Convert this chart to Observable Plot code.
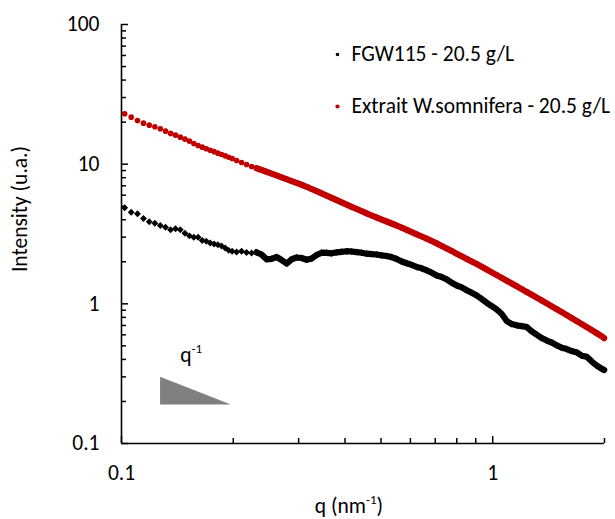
<!DOCTYPE html>
<html><head><meta charset="utf-8">
<script src="https://cdn.jsdelivr.net/npm/d3@7"></script>
<script src="https://cdn.jsdelivr.net/npm/@observablehq/plot@0.6"></script>
<style>
html,body{margin:0;padding:0;background:#fff;}
#chart{position:relative;width:615px;height:519px;overflow:hidden;}
</style></head><body><div id="chart"></div>
<script>
// scattering vector q (nm^-1)
const q = [0.1020,0.1062,0.1104,0.1146,0.1188,0.1230,0.1272,0.1314,0.1356,0.1398,0.1440,0.1482,0.1524,0.1566,0.1608,0.1650,0.1692,0.1734,0.1776,0.1818,0.1860,0.1902,0.1944,0.1986,
0.2042,0.2106,0.2172,0.2241,0.2311,0.2384,0.2459,0.2537,0.2617,0.2699,0.2784,0.2872,0.2963,0.3056,0.3153,0.3252,0.3354,0.3460,0.3569,0.3682,0.3798,0.3917,0.4041,0.4168,0.4300,0.4435,0.4575,0.4719,0.4868,0.5021,0.5180,0.5343,0.5511,0.5685,0.5864,0.6049,0.6240,0.6437,0.6639,0.6849,0.7065,0.7287,0.7517,0.7754,0.7998,0.8250,0.8511,0.8779,0.9056,0.9341,0.9635,0.9938,1.0251,1.0574,1.0907,1.1251,1.1606,1.1971,1.2349,1.2738,1.3140,1.3554,1.3981,1.4422,1.4876,1.5345,1.5829,1.6328,1.6842,1.7373,1.7921,1.8486,1.9068,1.9669,1.995];
// FGW115 - 20.5 g/L
const fgw115 = [4.872,4.530,4.412,4.083,3.867,3.779,3.638,3.537,3.389,3.445,3.389,3.204,3.069,3.000,3.000,2.841,2.808,2.726,2.682,2.647,2.594,2.510,2.416,2.377,
2.350,2.377,2.331,2.312,2.339,2.255,2.084,2.101,2.164,2.060,
1.944,2.084,2.146,2.129,2.067,2.111,2.236,2.323,2.319,2.300,
2.335,2.358,2.381,2.369,2.346,2.323,2.285,2.270,2.255,2.225,
2.199,2.160,2.094,2.009,1.951,1.900,1.835,1.796,1.738,1.671,
1.595,1.556,1.498,1.416,1.352,1.313,1.251,1.199,1.147,1.082,
1.017,0.9644,0.9103,0.8450,0.7527,0.7165,0.7013,0.6921,0.6819,0.6352,
0.6008,0.5688,0.5459,0.5282,0.5043,0.4847,0.4745,0.4589,0.4492,0.4248,
0.4172,0.3861,0.3614,0.3428,0.3356];
// Extrait W.somnifera - 20.5 g/L
const extrait = [22.96,21.71,20.56,19.67,19.03,18.53,17.93,17.24,16.60,16.14,15.61,15.11,14.62,14.07,13.61,13.24,12.89,12.58,12.29,11.99,11.72,11.47,11.22,10.98,
10.63,10.28,9.951,9.628,9.346,9.088,8.822,8.564,8.299,8.044,
7.808,7.569,7.347,7.121,6.890,6.644,6.407,6.179,5.958,5.736,
5.522,5.325,5.135,4.952,4.775,4.605,4.441,4.290,4.151,4.016,
3.886,3.760,3.638,3.508,3.383,3.263,3.147,3.034,2.926,2.818,
2.708,2.599,2.490,2.385,2.285,2.189,2.097,2.009,1.925,1.844,
1.761,1.681,1.606,1.533,1.464,1.398,1.335,1.274,1.217,1.162,
1.108,1.056,1.007,0.9596,0.9149,0.8720,0.8299,0.7898,0.7515,0.7153,
0.6808,0.6479,0.6157,0.5851,0.5679];

const seriesNames = ["FGW115 - 20.5 g/L", "Extrait W.somnifera - 20.5 g/L"];
const seriesColors = ["#000000", "#C00000"];
const xTickLabels = [0.1, 1];
const xMinorTicks = [0.2,0.3,0.4,0.5,0.6,0.7,0.8,0.9,2];
const yTickLabels = [0.1, 1, 10, 100];
const yMinorTicks = [0.2,0.3,0.4,0.5,0.6,0.7,0.8,0.9,2,3,4,5,6,7,8,9,20,30,40,50,60,70,80,90];
const xDomain = [0.1, 2];
const yDomain = [0.1, 100];
const slopeTriangle = [{q:0.127,I:0.30},{q:0.127,I:0.19},{q:0.197,I:0.19}];
const slopeLabel = {q:0.1545, I:0.38, base:"q", sup:"-1"};
const yLabel = "Intensity (u.a.)";
const xLabelParts = ["q (nm", "-1", ")"];

const rows = q.map((v,i)=>({q:v, fgw:fgw115[i], ext:extrait[i]}));
const bandRows = rows.filter(d => d.q >= 0.23);

const W = 615, H = 519, mL = 121, mR = 11, mT = 24, mB = 76;
const innerW = W - mL - mR, innerH = H - mT - mB;
const font = "Carlito, Lato, sans-serif";
const fs = 21.5;

const plot = Plot.plot({
  width: W, height: H,
  marginLeft: mL, marginRight: mR, marginTop: mT, marginBottom: mB,
  style: {fontFamily: font, fontSize: fs + "px", color: "#000", background: "#fff"},
  x: {type: "log", domain: xDomain, axis: null},
  y: {type: "log", domain: yDomain, axis: null},
  marks: [
    // slope triangle
    Plot.line(slopeTriangle, {x:"q", y:"I", fill:"#808080", stroke:"none"}),
    // axis lines
    Plot.ruleX([xDomain[0]], {stroke:"#000", strokeWidth:1.6}),
    Plot.ruleY([yDomain[0]], {stroke:"#000", strokeWidth:1.6}),
    // inward ticks
    Plot.tickY(yTickLabels, {y: d=>d, insetRight: innerW - 7, stroke:"#000", strokeWidth:1.5}),
    Plot.tickY(yMinorTicks, {y: d=>d, insetRight: innerW - 5, stroke:"#000", strokeWidth:1.5}),
    Plot.tickX(xTickLabels, {x: d=>d, insetTop: innerH - 7, stroke:"#000", strokeWidth:1.5}),
    Plot.tickX(xMinorTicks, {x: d=>d, insetTop: innerH - 5, stroke:"#000", strokeWidth:1.5}),
    // tick labels
    Plot.axisY({ticks: yTickLabels, tickSize: 0, tickPadding: 22, tickFormat: d => String(d), label: null, fill:"#000"}),
    Plot.axisX({ticks: xTickLabels, tickSize: 0, tickPadding: 21, tickFormat: d => String(d), label: null, fill:"#000"}),
    // y axis title
    Plot.text([yLabel], {text: d=>d, frameAnchor:"left", textAnchor:"middle", lineAnchor:"middle", rotate:-90, dx:-101, dy:-25, fill:"#000"}),
    // black series
    Plot.line(bandRows, {x:"q", y:"fgw", stroke:seriesColors[0], strokeWidth:6.2, strokeLinecap:"round", strokeLinejoin:"round"}),
    Plot.dot(rows, {x:"q", y:"fgw", symbol:"diamond2", r:3.1, fill:seriesColors[0]}),
    // red series
    Plot.line(bandRows, {x:"q", y:"ext", stroke:seriesColors[1], strokeWidth:6.2, strokeLinecap:"round", strokeLinejoin:"round"}),
    Plot.dot(rows, {x:"q", y:"ext", r:2.8, fill:seriesColors[1]}),
    // legend
    Plot.dot([0], {frameAnchor:"top-left", dx:216, dy:30, r:1.8, fill:seriesColors[0]}),
    Plot.text([seriesNames[0]], {text:d=>d, frameAnchor:"top-left", dx:230, dy:30, textAnchor:"start", lineAnchor:"middle", fill:"#000"}),
    Plot.dot([0], {frameAnchor:"top-left", dx:216, dy:82, r:2.1, fill:seriesColors[1]}),
    Plot.text([seriesNames[1]], {text:d=>d, frameAnchor:"top-left", dx:230, dy:82, textAnchor:"start", lineAnchor:"middle", fill:"#000"})
  ]
});

const svg = d3.select(plot);
const sx = plot.scale("x"), sy = plot.scale("y");
// q^-1 annotation
const t1 = svg.append("text")
  .attr("x", sx.apply(slopeLabel.q)).attr("y", sy.apply(slopeLabel.I))
  .attr("text-anchor", "middle").attr("font-family", font).attr("font-size", fs).attr("fill", "#000");
t1.append("tspan").text(slopeLabel.base);
t1.append("tspan").attr("dy", -9).attr("font-size", 13).text(slopeLabel.sup);
// x axis title
const t2 = svg.append("text")
  .attr("x", 349).attr("y", 513)
  .attr("text-anchor", "middle").attr("font-family", font).attr("font-size", fs).attr("fill", "#000");
t2.append("tspan").text(xLabelParts[0]);
t2.append("tspan").attr("dy", -9).attr("font-size", 13).text(xLabelParts[1]);
t2.append("tspan").attr("dy", 9).text(xLabelParts[2]);

document.getElementById("chart").appendChild(plot);
</script></body></html>
